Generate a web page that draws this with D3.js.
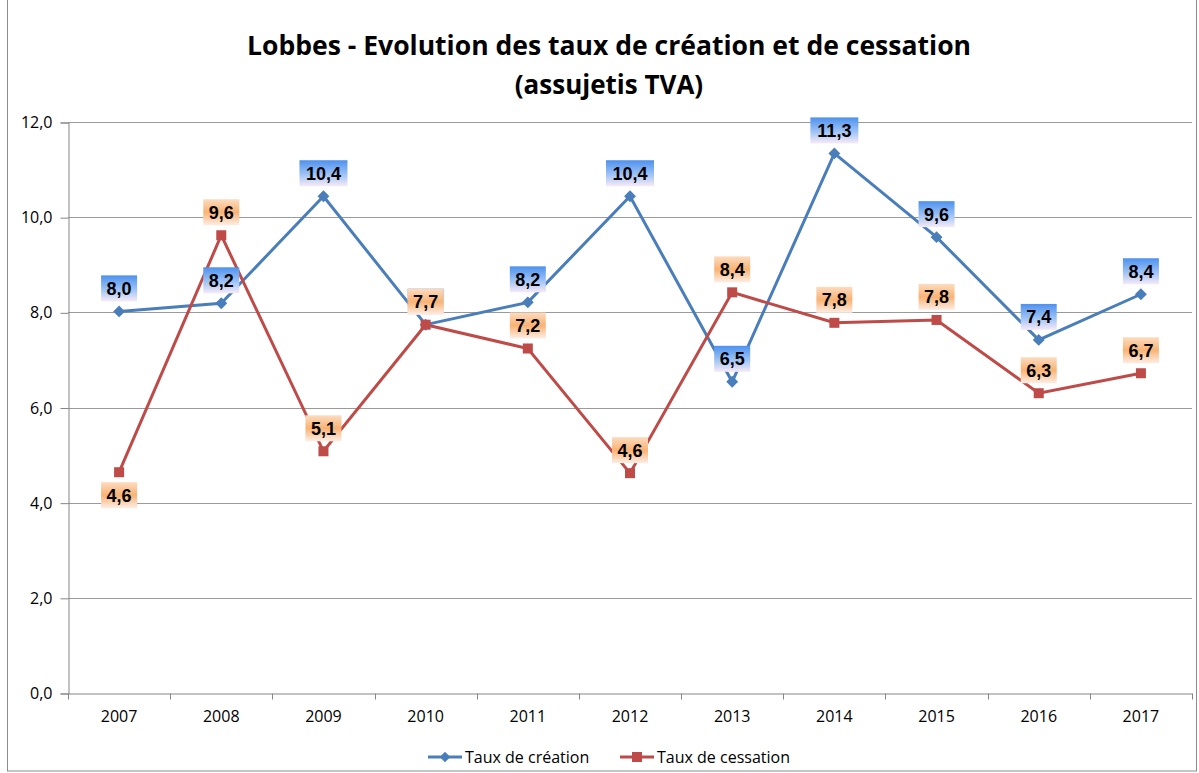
<!DOCTYPE html>
<html>
<head>
<meta charset="utf-8">
<style>
body{ margin:0; background:#fff; }
text{ font-family: "Open Sans", "Noto Sans", sans-serif; }
.tick text{ font-size:16px; fill:#000; }
.dlabel{ font-family: "Liberation Sans", Arial, sans-serif; font-weight:bold; font-size:18px; }
</style>
<script src="https://d3js.org/d3.v7.min.js"></script>
</head>
<body>
<svg id="chart" width="1199" height="773"></svg>
<script>
var years = ["2007","2008","2009","2010","2011","2012","2013","2014","2015","2016","2017"]
var creation = [8.02, 8.19, 10.44, 7.74, 8.21, 10.44, 6.54, 11.34, 9.58, 7.42, 8.38]
var cessation = [4.64, 9.62, 5.08, 7.74, 7.24, 4.62, 8.42, 7.78, 7.84, 6.30, 6.72]
var yTicks = [0, 2, 4, 6, 8, 10, 12]
var seriesNames = ["Taux de création", "Taux de cessation"]
// where the data label goes: -1 above the point, 1 below
var creationSide = [-1,-1,-1,-1,-1,-1,-1,-1,-1,-1,-1]
var cessationSide = [1,-1,-1,-1,-1,-1,-1,-1,-1,-1,-1]

var w = 1199
var h = 773
var plotLeft = 68, plotRight = 1192, plotTop = 122, plotBottom = 693
var blue = "#4a7ebb"
var red = "#be4b48"

var svg = d3.select("#chart")
var fmt = function(d){ return d3.format(".1f")(d).replace(".", ",") }

// gradients for the data labels
var defs = svg.append("defs")
var gb = defs.append("linearGradient").attr("id", "gBlue").attr("x1", 0).attr("y1", 0).attr("x2", 0).attr("y2", 1)
gb.append("stop").attr("offset", "0%").attr("stop-color", "#4d91ee")
gb.append("stop").attr("offset", "55%").attr("stop-color", "#9fc3f5")
gb.append("stop").attr("offset", "100%").attr("stop-color", "#f7eaf6")
var go = defs.append("linearGradient").attr("id", "gOrange").attr("x1", 0).attr("y1", 0).attr("x2", 0).attr("y2", 1)
go.append("stop").attr("offset", "0%").attr("stop-color", "#fcdcc0")
go.append("stop").attr("offset", "50%").attr("stop-color", "#f9b274")
go.append("stop").attr("offset", "100%").attr("stop-color", "#fdeee6")

// outer border
svg.append("rect")
   .attr("x", 7.5).attr("y", -1)
   .attr("width", 1189).attr("height", 772)
   .attr("fill", "none").attr("stroke", "#8c8c8c")

// title
var title = svg.append("text")
   .attr("text-anchor", "middle")
   .attr("font-weight", "bold")
   .attr("font-size", "26px")
title.append("tspan").attr("x", 609).attr("y", 55)
     .attr("textLength", 724).attr("lengthAdjust", "spacingAndGlyphs")
     .text("Lobbes - Evolution des taux de création et de cessation")
title.append("tspan").attr("x", 609).attr("y", 94)
     .text("(assujetis TVA)")

var xScale = d3.scaleBand()
               .domain(years)
               .range([plotLeft, plotRight])
var yScale = d3.scaleLinear()
               .domain([0, 12])
               .range([plotBottom, plotTop])

// gridlines
svg.append("g")
   .selectAll("line")
   .data(yTicks.filter(function(d){ return d > 0 }))
   .enter()
   .append("line")
   .attr("x1", plotLeft).attr("x2", plotRight)
   .attr("y1", function(d){ return Math.round(yScale(d)) + 0.5 })
   .attr("y2", function(d){ return Math.round(yScale(d)) + 0.5 })
   .attr("stroke", "#9a9a9a")

var yAxis = d3.axisLeft(yScale)
              .tickValues(yTicks)
              .tickSize(8)
              .tickPadding(8)
              .tickFormat(fmt)
var gy = svg.append("g")
   .attr("transform", "translate(" + (plotLeft + 0.5) + ",0.5)")
   .call(yAxis)
gy.select(".domain").attr("stroke", "#868686")
gy.selectAll(".tick line").attr("stroke", "#868686")

var xAxis = d3.axisBottom(xScale)
              .tickSize(0)
              .tickPadding(17)
var gx = svg.append("g")
   .attr("transform", "translate(0," + (plotBottom + 0.5) + ")")
   .call(xAxis)
gx.select(".domain").attr("stroke", "#868686")
// category boundary ticks
gx.selectAll(".bound")
  .data(years.concat(["end"]))
  .enter()
  .append("line")
  .attr("class", "bound")
  .attr("x1", function(d, i){ return Math.round(plotLeft + i * xScale.step()) + 0.5 })
  .attr("x2", function(d, i){ return Math.round(plotLeft + i * xScale.step()) + 0.5 })
  .attr("y1", 0).attr("y2", 6)
  .attr("stroke", "#868686")

var cx = function(d, i){ return xScale(years[i]) + xScale.bandwidth() / 2 }
var line = d3.line()
             .x(function(d, i){ return cx(d, i) })
             .y(function(d){ return yScale(d) })

svg.append("path").datum(creation)
   .attr("d", line).attr("fill", "none")
   .attr("stroke", blue).attr("stroke-width", 3)
svg.append("path").datum(cessation)
   .attr("d", line).attr("fill", "none")
   .attr("stroke", red).attr("stroke-width", 3)

svg.append("g").selectAll("path")
   .data(creation)
   .enter()
   .append("path")
   .attr("d", d3.symbol().type(d3.symbolDiamond2).size(90))
   .attr("transform", function(d, i){ return "translate(" + cx(d, i) + "," + yScale(d) + ")" })
   .attr("fill", blue)
svg.append("g").selectAll("rect")
   .data(cessation)
   .enter()
   .append("rect")
   .attr("x", function(d, i){ return cx(d, i) - 5 })
   .attr("y", function(d){ return yScale(d) - 5 })
   .attr("width", 10).attr("height", 10)
   .attr("fill", red)

function labels(data, sides, grad){
    var g = svg.append("g")
    var lab = g.selectAll("g")
               .data(data)
               .enter()
               .append("g")
               .attr("transform", function(d, i){
                   return "translate(" + cx(d, i) + "," + (yScale(d) + sides[i] * 23) + ")"
               })
    lab.append("rect")
       .attr("x", function(d){ return d >= 10 ? -24 : -18 })
       .attr("y", -13)
       .attr("width", function(d){ return d >= 10 ? 48 : 36 })
       .attr("height", 26)
       .attr("fill", "url(#" + grad + ")")
    lab.append("text")
       .attr("class", "dlabel")
       .attr("text-anchor", "middle")
       .attr("y", 6.5)
       .text(fmt)
}
labels(creation, creationSide, "gBlue")
labels(cessation, cessationSide, "gOrange")

// legend
var legend = svg.append("g").attr("transform", "translate(0,757)")
var lx = [428, 620]
legend.selectAll("line")
      .data(seriesNames)
      .enter()
      .append("line")
      .attr("x1", function(d, i){ return lx[i] })
      .attr("x2", function(d, i){ return lx[i] + 34 })
      .attr("stroke", function(d, i){ return i == 0 ? blue : red })
      .attr("stroke-width", 3)
legend.append("path")
      .attr("d", d3.symbol().type(d3.symbolDiamond2).size(70))
      .attr("transform", "translate(" + (lx[0] + 17) + ",0)")
      .attr("fill", blue)
legend.append("rect")
      .attr("x", lx[1] + 12).attr("y", -5)
      .attr("width", 10).attr("height", 10)
      .attr("fill", red)
legend.selectAll("text")
      .data(seriesNames)
      .enter()
      .append("text")
      .attr("x", function(d, i){ return lx[i] + 37 })
      .attr("y", 6)
      .attr("font-size", "16px")
      .text(function(d){ return d })
</script>
</body>
</html>
